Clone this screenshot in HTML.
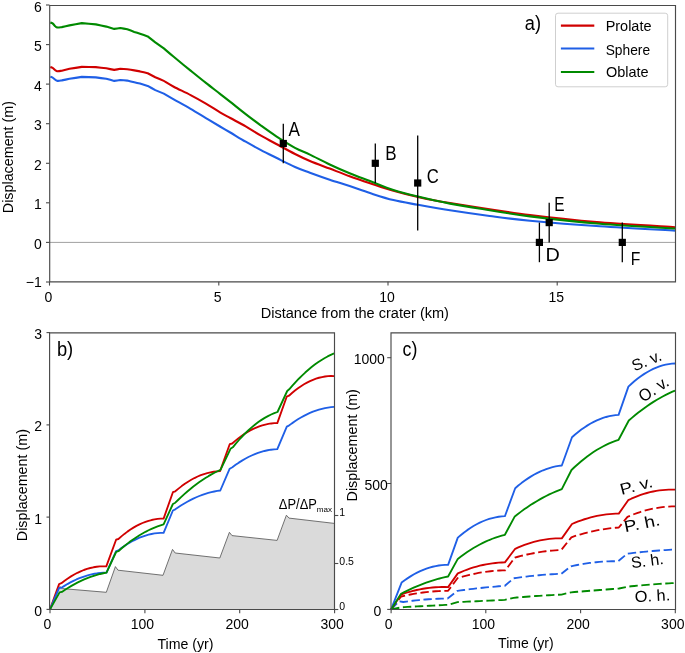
<!DOCTYPE html>
<html><head><meta charset="utf-8"><style>
html,body{margin:0;padding:0;background:#fff;width:685px;height:653px;overflow:hidden}
svg{display:block;will-change:transform}
text{font-family:"Liberation Sans",sans-serif}
</style></head><body>
<svg width="685" height="653" viewBox="0 0 685 653">
<rect width="685" height="653" fill="#fff"/>
<line x1="49.5" y1="242.4" x2="675.5" y2="242.4" stroke="#a0a0a0" stroke-width="1"/>
<path d="M50.30,67.00 C50.68,67.15 51.55,67.22 52.60,67.90 C53.65,68.58 55.07,70.63 56.60,71.10 C58.13,71.57 60.93,70.77 61.80,70.70 C63.08,70.38 68.22,69.12 69.50,68.80 C71.55,68.48 79.75,67.22 81.80,66.90 C84.13,66.93 93.47,67.07 95.80,67.10 C97.55,67.30 104.55,68.10 106.30,68.30 C107.62,68.57 112.88,69.63 114.20,69.90 C115.22,69.72 119.28,68.98 120.30,68.80 C121.47,68.87 126.13,69.13 127.30,69.20 C128.47,69.40 133.13,70.20 134.30,70.40 C135.25,70.57 139.05,71.23 140.00,71.40 C141.28,71.70 146.42,72.90 147.70,73.20 C148.97,73.87 154.03,76.53 155.30,77.20 C156.72,77.82 162.38,80.28 163.80,80.90 C165.45,81.87 169.23,84.33 173.70,86.70 C178.17,89.07 185.23,92.28 190.60,95.10 C195.97,97.92 201.00,100.73 205.90,103.60 C210.80,106.47 215.93,109.90 220.00,112.30 C224.07,114.70 226.02,115.65 230.30,118.00 C234.58,120.35 240.58,123.47 245.70,126.40 C250.82,129.33 255.90,132.67 261.00,135.60 C266.10,138.53 270.63,140.93 276.30,144.00 C281.97,147.07 289.40,151.17 295.00,154.00 C300.60,156.83 304.12,158.57 309.90,161.00 C315.68,163.43 323.08,166.07 329.70,168.60 C336.32,171.13 342.88,173.77 349.60,176.20 C356.32,178.63 362.70,180.77 370.00,183.20 C377.30,185.63 385.42,188.50 393.40,190.80 C401.38,193.10 408.47,194.97 417.90,197.00 C427.33,199.03 431.32,199.98 450.00,203.00 C468.68,206.02 505.00,211.87 530.00,215.10 C555.00,218.33 575.83,220.38 600.00,222.40 C624.17,224.42 662.50,226.40 675.00,227.20" fill="none" stroke="#d00000" stroke-width="2.1" stroke-linejoin="round"/>
<path d="M50.30,76.70 C50.68,76.85 51.48,76.93 52.60,77.60 C53.72,78.27 55.47,80.23 57.00,80.70 C58.53,81.17 61.00,80.45 61.80,80.40 C63.08,80.13 68.22,79.07 69.50,78.80 C71.55,78.48 79.75,77.22 81.80,76.90 C84.13,76.98 93.47,77.32 95.80,77.40 C97.55,77.63 104.55,78.57 106.30,78.80 C107.62,79.15 112.88,80.55 114.20,80.90 C115.22,80.75 119.28,80.15 120.30,80.00 C121.47,80.10 126.13,80.50 127.30,80.60 C128.47,80.88 133.13,82.02 134.30,82.30 C135.25,82.52 139.05,83.38 140.00,83.60 C141.28,83.98 146.42,85.52 147.70,85.90 C148.97,86.60 154.03,89.40 155.30,90.10 C156.72,90.68 162.38,93.02 163.80,93.60 C165.45,94.55 169.23,96.75 173.70,99.30 C178.17,101.85 185.23,105.77 190.60,108.90 C195.97,112.03 201.00,115.17 205.90,118.10 C210.80,121.03 215.93,124.10 220.00,126.50 C224.07,128.90 226.02,129.97 230.30,132.50 C234.58,135.03 240.58,138.77 245.70,141.70 C250.82,144.63 255.90,147.42 261.00,150.10 C266.10,152.78 270.63,154.98 276.30,157.80 C281.97,160.62 289.40,164.52 295.00,167.00 C300.60,169.48 304.12,170.58 309.90,172.70 C315.68,174.82 323.08,177.47 329.70,179.70 C336.32,181.93 342.88,183.87 349.60,186.10 C356.32,188.33 362.70,190.77 370.00,193.10 C377.30,195.43 385.42,198.15 393.40,200.10 C401.38,202.05 408.47,203.10 417.90,204.80 C427.33,206.50 438.03,208.43 450.00,210.30 C461.97,212.17 476.37,214.27 489.70,216.00 C503.03,217.73 511.62,218.98 530.00,220.70 C548.38,222.42 575.83,224.65 600.00,226.30 C624.17,227.95 662.50,229.88 675.00,230.60" fill="none" stroke="#1f5fe6" stroke-width="2.1" stroke-linejoin="round"/>
<path d="M50.30,22.50 C50.68,22.63 51.83,22.73 52.60,23.30 C53.37,23.87 54.17,25.22 54.90,25.90 C55.63,26.58 55.85,27.20 57.00,27.40 C58.15,27.60 61.00,27.15 61.80,27.10 C63.08,26.82 68.22,25.68 69.50,25.40 C71.55,25.02 79.75,23.48 81.80,23.10 C84.13,23.32 93.47,24.18 95.80,24.40 C97.55,24.77 104.55,26.23 106.30,26.60 C107.62,26.98 112.88,28.52 114.20,28.90 C115.22,28.75 119.28,28.15 120.30,28.00 C121.47,28.22 126.13,29.08 127.30,29.30 C128.47,29.73 133.13,31.47 134.30,31.90 C135.25,32.22 139.05,33.48 140.00,33.80 C141.28,34.23 146.42,35.97 147.70,36.40 C148.97,37.38 154.03,41.32 155.30,42.30 C156.72,43.32 162.38,47.38 163.80,48.40 C165.45,49.80 169.23,53.10 173.70,56.80 C178.17,60.50 185.23,66.25 190.60,70.60 C195.97,74.95 201.00,79.03 205.90,82.90 C210.80,86.77 215.93,90.63 220.00,93.80 C224.07,96.97 226.02,98.52 230.30,101.90 C234.58,105.28 240.58,110.15 245.70,114.10 C250.82,118.05 255.90,121.90 261.00,125.60 C266.10,129.30 270.63,132.60 276.30,136.30 C281.97,140.00 289.40,144.75 295.00,147.80 C300.60,150.85 304.12,151.82 309.90,154.60 C315.68,157.38 323.08,161.38 329.70,164.50 C336.32,167.62 342.88,170.53 349.60,173.30 C356.32,176.07 362.70,178.32 370.00,181.10 C377.30,183.88 385.42,187.42 393.40,190.00 C401.38,192.58 408.47,194.33 417.90,196.60 C427.33,198.87 438.03,201.33 450.00,203.60 C461.97,205.87 476.37,208.07 489.70,210.20 C503.03,212.33 511.62,214.13 530.00,216.40 C548.38,218.67 575.83,221.78 600.00,223.80 C624.17,225.82 662.50,227.72 675.00,228.50" fill="none" stroke="#008a00" stroke-width="2.1" stroke-linejoin="round"/>
<line x1="283.3" y1="163.3" x2="283.3" y2="123.7" stroke="#000" stroke-width="1.3"/>
<rect x="279.7" y="139.9" width="7.2" height="7.2" fill="#000"/>
<line x1="375.3" y1="183.0" x2="375.3" y2="143.5" stroke="#000" stroke-width="1.3"/>
<rect x="371.7" y="159.7" width="7.2" height="7.2" fill="#000"/>
<line x1="417.7" y1="230.5" x2="417.7" y2="135.6" stroke="#000" stroke-width="1.3"/>
<rect x="414.1" y="179.4" width="7.2" height="7.2" fill="#000"/>
<line x1="539.4" y1="262.2" x2="539.4" y2="222.6" stroke="#000" stroke-width="1.3"/>
<rect x="535.8" y="238.8" width="7.2" height="7.2" fill="#000"/>
<line x1="549.2" y1="242.4" x2="549.2" y2="202.8" stroke="#000" stroke-width="1.3"/>
<rect x="545.6" y="219.0" width="7.2" height="7.2" fill="#000"/>
<line x1="622.3" y1="262.2" x2="622.3" y2="222.6" stroke="#000" stroke-width="1.3"/>
<rect x="618.7" y="238.8" width="7.2" height="7.2" fill="#000"/>
<text transform="translate(288.61,135.90) scale(0.9512,1.1272)" font-size="18" fill="#000">A</text>
<text transform="translate(385.34,160.20) scale(0.9450,1.0870)" font-size="18" fill="#000">B</text>
<text transform="translate(426.77,183.10) scale(0.9259,1.1429)" font-size="18" fill="#000">C</text>
<text transform="translate(545.61,261.30) scale(1.1018,1.0225)" font-size="18" fill="#000">D</text>
<text transform="translate(554.27,210.80) scale(0.8563,1.1031)" font-size="18" fill="#000">E</text>
<text transform="translate(630.84,264.70) scale(0.8730,1.0628)" font-size="18" fill="#000">F</text>
<path d="M49.7,5.5 H675.5 V281.8 H49.7 Z" fill="none" stroke="#4a4a4a" stroke-width="1.15" stroke-linejoin="miter"/>
<line x1="46" y1="282.0" x2="49.5" y2="282.0" stroke="#4a4a4a" stroke-width="1.1"/>
<text x="41.8" y="286.57000000000005" font-size="14" text-anchor="end" fill="#000">−1</text>
<line x1="46" y1="242.4" x2="49.5" y2="242.4" stroke="#4a4a4a" stroke-width="1.1"/>
<text x="41.8" y="249.0" font-size="14" text-anchor="end" fill="#000">0</text>
<line x1="46" y1="202.8" x2="49.5" y2="202.8" stroke="#4a4a4a" stroke-width="1.1"/>
<text x="41.8" y="209.43" font-size="14" text-anchor="end" fill="#000">1</text>
<line x1="46" y1="163.3" x2="49.5" y2="163.3" stroke="#4a4a4a" stroke-width="1.1"/>
<text x="41.8" y="169.85999999999999" font-size="14" text-anchor="end" fill="#000">2</text>
<line x1="46" y1="123.7" x2="49.5" y2="123.7" stroke="#4a4a4a" stroke-width="1.1"/>
<text x="41.8" y="130.29" font-size="14" text-anchor="end" fill="#000">3</text>
<line x1="46" y1="84.1" x2="49.5" y2="84.1" stroke="#4a4a4a" stroke-width="1.1"/>
<text x="41.8" y="90.72" font-size="14" text-anchor="end" fill="#000">4</text>
<line x1="46" y1="44.6" x2="49.5" y2="44.6" stroke="#4a4a4a" stroke-width="1.1"/>
<text x="41.8" y="51.15000000000001" font-size="14" text-anchor="end" fill="#000">5</text>
<line x1="46" y1="5.0" x2="49.5" y2="5.0" stroke="#4a4a4a" stroke-width="1.1"/>
<text x="41.8" y="11.57999999999999" font-size="14" text-anchor="end" fill="#000">6</text>
<line x1="49.5" y1="281.8" x2="49.5" y2="285.6" stroke="#4a4a4a" stroke-width="1.1"/>
<text x="48.5" y="302" font-size="14" text-anchor="middle" fill="#000">0</text>
<line x1="218.8" y1="281.8" x2="218.8" y2="285.6" stroke="#4a4a4a" stroke-width="1.1"/>
<text x="217.75" y="302" font-size="14" text-anchor="middle" fill="#000">5</text>
<line x1="388.0" y1="281.8" x2="388.0" y2="285.6" stroke="#4a4a4a" stroke-width="1.1"/>
<text x="387.0" y="302" font-size="14" text-anchor="middle" fill="#000">10</text>
<line x1="557.2" y1="281.8" x2="557.2" y2="285.6" stroke="#4a4a4a" stroke-width="1.1"/>
<text x="556.25" y="302" font-size="14" text-anchor="middle" fill="#000">15</text>
<text transform="translate(260.74,317.80) scale(1.0398,0.9938)" font-size="14" fill="#000">Distance from the crater (km)</text>
<text transform="translate(13.20,213.15) rotate(-90) scale(1.0227,1.0145)" font-size="14">Displacement (m)</text>
<text x="524.8" y="30.2" font-size="20" text-anchor="start" fill="#000" textLength="16.2" lengthAdjust="spacingAndGlyphs">a)</text>
<rect x="555.5" y="13.2" width="112.2" height="73.6" rx="2.5" fill="#fff" stroke="#cfcfcf" stroke-width="1"/>
<line x1="560.9" y1="25.6" x2="594.3" y2="25.6" stroke="#d00000" stroke-width="2.1"/>
<text transform="translate(605.64,31.40) scale(1.0338,1.0640)" font-size="14" fill="#000">Prolate</text>
<line x1="560.9" y1="48.5" x2="594.3" y2="48.5" stroke="#1f5fe6" stroke-width="2.1"/>
<text transform="translate(605.68,54.50) scale(0.9843,1.0049)" font-size="14" fill="#000">Sphere</text>
<line x1="560.9" y1="72" x2="594.3" y2="72" stroke="#008a00" stroke-width="2.1"/>
<text transform="translate(605.95,77.30) scale(1.0358,1.0246)" font-size="14" fill="#000">Oblate</text>
<polygon points="50.0,609.4 59.8,586.5 62.5,588.6 106.3,592.3 115.4,566.6 118.0,570.2 163.0,575.3 172.5,549.4 175.2,553.0 219.8,558.0 229.4,532.3 232.0,535.6 277.1,540.4 286.4,515.2 289.0,518.1 334.3,523.4 334.3,609.4" fill="#dadada" stroke="none"/>
<polyline points="50.0,609.4 59.8,586.5 62.5,588.6 106.3,592.3 115.4,566.6 118.0,570.2 163.0,575.3 172.5,549.4 175.2,553.0 219.8,558.0 229.4,532.3 232.0,535.6 277.1,540.4 286.4,515.2 289.0,518.1 334.3,523.4" fill="none" stroke="#5a5a5a" stroke-width="0.85" stroke-linejoin="round" stroke-linecap="butt"/>
<polyline points="50.00,609.40 59.10,584.10 61.40,583.20 64.61,580.73 67.81,578.45 71.02,576.37 74.23,574.48 77.44,572.79 80.64,571.30 83.85,570.00 87.06,568.90 90.26,567.99 93.47,567.28 96.68,566.77 99.89,566.45 103.09,566.33 106.30,566.40 116.10,539.70 118.40,539.00 121.41,536.36 124.43,533.90 127.44,531.63 130.45,529.54 133.47,527.63 136.48,525.90 139.49,524.36 142.51,523.00 145.52,521.82 148.53,520.83 151.55,520.02 154.56,519.39 157.57,518.94 160.59,518.68 163.60,518.60 172.90,492.20 175.30,491.30 178.49,488.61 181.69,486.11 184.88,483.81 188.07,481.69 191.26,479.78 194.46,478.05 197.65,476.52 200.84,475.18 204.04,474.03 207.23,473.08 210.42,472.32 213.61,471.75 216.81,471.38 220.00,471.20 229.70,444.20 232.20,443.50 235.21,440.87 238.21,438.42 241.22,436.16 244.23,434.07 247.23,432.17 250.24,430.44 253.25,428.90 256.25,427.54 259.26,426.36 262.27,425.37 265.27,424.55 268.28,423.92 271.29,423.46 274.29,423.19 277.30,423.10 286.70,396.70 289.00,395.70 292.00,393.03 295.00,390.55 298.00,388.27 301.00,386.18 304.00,384.29 307.00,382.59 310.00,381.09 313.00,379.79 316.00,378.67 319.00,377.76 322.00,377.04 325.00,376.51 328.00,376.18 331.00,376.04 334.00,376.10" fill="none" stroke="#d00000" stroke-width="1.85" stroke-linejoin="round"/>
<polyline points="50.00,609.40 59.10,587.80 61.40,587.80 64.41,585.87 67.41,584.08 70.42,582.41 73.43,580.87 76.43,579.47 79.44,578.19 82.45,577.05 85.45,576.04 88.46,575.15 91.47,574.40 94.47,573.78 97.48,573.29 100.49,572.93 103.49,572.70 106.50,572.60 116.10,551.20 118.40,550.40 121.41,548.11 124.43,545.98 127.44,544.01 130.45,542.20 133.47,540.55 136.48,539.06 139.49,537.72 142.51,536.55 145.52,535.54 148.53,534.68 151.55,533.99 154.56,533.45 157.57,533.07 160.59,532.86 163.60,532.80 172.90,510.50 175.30,509.30 178.30,507.23 181.30,505.28 184.30,503.44 187.30,501.72 190.30,500.12 193.30,498.63 196.30,497.26 199.30,496.01 202.30,494.87 205.30,493.85 208.30,492.95 211.30,492.16 214.30,491.49 217.30,490.94 220.30,490.50 229.70,468.70 232.40,467.20 235.61,464.84 238.81,462.64 242.02,460.61 245.23,458.74 248.44,457.03 251.64,455.49 254.85,454.12 258.06,452.91 261.26,451.86 264.47,450.98 267.68,450.26 270.89,449.71 274.09,449.32 277.30,449.10 286.80,426.60 288.90,425.60 291.91,423.37 294.91,421.28 297.92,419.33 300.93,417.52 303.93,415.85 306.94,414.32 309.95,412.93 312.95,411.68 315.96,410.58 318.97,409.61 321.97,408.79 324.98,408.11 327.99,407.56 330.99,407.16 334.00,406.90" fill="none" stroke="#1f5fe6" stroke-width="1.85" stroke-linejoin="round"/>
<polyline points="50.00,609.40 59.60,592.40 61.90,591.90 65.09,589.77 68.27,587.76 71.46,585.87 74.64,584.09 77.83,582.42 81.01,580.87 84.20,579.43 87.39,578.11 90.57,576.91 93.76,575.82 96.94,574.84 100.13,573.98 103.31,573.23 106.50,572.60 116.10,552.00 118.40,551.20 121.41,548.56 124.43,546.03 127.44,543.63 130.45,541.36 133.47,539.20 136.48,537.17 139.49,535.26 142.51,533.48 145.52,531.81 148.53,530.27 151.55,528.85 154.56,527.55 157.57,526.38 160.59,525.33 163.60,524.40 172.90,504.00 175.30,502.70 178.31,499.74 181.33,496.89 184.34,494.15 187.35,491.52 190.37,489.00 193.38,486.59 196.39,484.29 199.41,482.09 202.42,480.01 205.43,478.03 208.45,476.17 211.46,474.41 214.47,472.77 217.49,471.23 220.50,469.80 230.50,448.80 232.80,447.30 235.99,443.41 239.19,439.74 242.38,436.27 245.57,433.01 248.76,429.96 251.96,427.13 255.15,424.50 258.34,422.09 261.54,419.88 264.73,417.88 267.92,416.10 271.11,414.52 274.31,413.16 277.50,412.00 287.20,391.00 289.20,389.30 292.40,385.60 295.60,382.08 298.80,378.73 302.00,375.55 305.20,372.55 308.40,369.73 311.60,367.08 314.80,364.60 318.00,362.30 321.20,360.17 324.40,358.22 327.60,356.44 330.80,354.83 334.00,353.40" fill="none" stroke="#008a00" stroke-width="1.85" stroke-linejoin="round"/>
<path d="M49.6,332.9 H334.5 V609.5 H49.6 Z" fill="none" stroke="#4a4a4a" stroke-width="1.15" stroke-linejoin="miter"/>
<line x1="46.5" y1="609.4" x2="50" y2="609.4" stroke="#4a4a4a" stroke-width="1.1"/>
<text x="42" y="616.0" font-size="14" text-anchor="end" fill="#000">0</text>
<line x1="46.5" y1="517.1" x2="50" y2="517.1" stroke="#4a4a4a" stroke-width="1.1"/>
<text x="42" y="523.73" font-size="14" text-anchor="end" fill="#000">1</text>
<line x1="46.5" y1="424.9" x2="50" y2="424.9" stroke="#4a4a4a" stroke-width="1.1"/>
<text x="42" y="431.46000000000004" font-size="14" text-anchor="end" fill="#000">2</text>
<line x1="46.5" y1="332.6" x2="50" y2="332.6" stroke="#4a4a4a" stroke-width="1.1"/>
<text x="42" y="339.19" font-size="14" text-anchor="end" fill="#000">3</text>
<line x1="50.0" y1="609.4" x2="50.0" y2="613.1999999999999" stroke="#4a4a4a" stroke-width="1.1"/>
<text x="47.5" y="629.4" font-size="14" text-anchor="middle" fill="#000">0</text>
<line x1="144.9" y1="609.4" x2="144.9" y2="613.1999999999999" stroke="#4a4a4a" stroke-width="1.1"/>
<text x="142.37" y="629.4" font-size="14" text-anchor="middle" fill="#000">100</text>
<line x1="239.7" y1="609.4" x2="239.7" y2="613.1999999999999" stroke="#4a4a4a" stroke-width="1.1"/>
<text x="237.24" y="629.4" font-size="14" text-anchor="middle" fill="#000">200</text>
<line x1="334.6" y1="609.4" x2="334.6" y2="613.1999999999999" stroke="#4a4a4a" stroke-width="1.1"/>
<text x="332.11" y="629.4" font-size="14" text-anchor="middle" fill="#000">300</text>
<line x1="334.5" y1="609.5" x2="338.3" y2="609.5" stroke="#4a4a4a" stroke-width="1.1"/>
<text x="339.3" y="610.0" font-size="10.5" text-anchor="start" fill="#000">0</text>
<line x1="334.5" y1="563.5" x2="338.3" y2="563.5" stroke="#4a4a4a" stroke-width="1.1"/>
<text x="339.3" y="565.2" font-size="10.5" text-anchor="start" fill="#000">0.5</text>
<line x1="334.5" y1="515.5" x2="338.3" y2="515.5" stroke="#4a4a4a" stroke-width="1.1"/>
<text x="339.3" y="516.1" font-size="10.5" text-anchor="start" fill="#000">1</text>
<text transform="translate(157.42,649.10) scale(1.0125,1.0248)" font-size="14" fill="#000">Time (yr)</text>
<text transform="translate(26.50,541.14) rotate(-90) scale(1.0217,1.0455)" font-size="14">Displacement (m)</text>
<text x="56.9" y="356.4" font-size="20" text-anchor="start" fill="#000" textLength="16.3" lengthAdjust="spacingAndGlyphs">b)</text>
<text transform="translate(278.81,509.00) scale(0.9225,1.0455)" font-size="14" fill="#000">ΔP/ΔP</text>
<text transform="translate(316.67,512.10) scale(0.8099,0.7407)" font-size="10" fill="#000">max</text>
<polyline points="391.10,609.40 401.10,596.50 404.23,595.78 407.37,595.11 410.50,594.49 413.63,593.91 416.77,593.39 419.90,592.91 423.03,592.48 426.17,592.10 429.30,591.77 432.43,591.49 435.57,591.25 438.70,591.07 441.83,590.93 444.97,590.84 448.10,590.80 457.50,578.20 460.50,577.28 463.50,576.42 466.50,575.61 469.50,574.87 472.50,574.17 475.50,573.54 478.50,572.96 481.50,572.44 484.50,571.97 487.50,571.56 490.50,571.21 493.50,570.92 496.50,570.68 499.50,570.49 502.50,570.37 505.50,570.30 514.80,557.60 517.90,556.76 521.00,555.96 524.10,555.21 527.20,554.51 530.30,553.85 533.40,553.24 536.50,552.68 539.60,552.17 542.70,551.70 545.80,551.28 548.90,550.91 552.00,550.59 555.10,550.31 558.20,550.08 561.30,549.90 571.40,537.30 574.56,536.23 577.72,535.23 580.88,534.28 584.04,533.39 587.20,532.56 590.36,531.79 593.52,531.08 596.68,530.43 599.84,529.83 603.00,529.30 606.16,528.82 609.32,528.40 612.48,528.04 615.64,527.74 618.80,527.50 627.50,516.80 630.67,515.48 633.83,514.25 637.00,513.11 640.17,512.05 643.33,511.09 646.50,510.21 649.67,509.42 652.83,508.72 656.00,508.11 659.17,507.59 662.33,507.15 665.50,506.81 668.67,506.55 671.83,506.38 675.00,506.30" fill="none" stroke="#d00000" stroke-width="1.85" stroke-linejoin="round" stroke-dasharray="8.4,3.6"/>
<polyline points="391.10,609.40 399.10,601.20 403.20,602.00 406.37,601.56 409.54,601.14 412.71,600.76 415.89,600.40 419.06,600.08 422.23,599.78 425.40,599.52 428.57,599.28 431.74,599.08 434.91,598.90 438.09,598.76 441.26,598.64 444.43,598.56 447.60,598.50 457.50,590.80 460.66,590.37 463.82,589.96 466.98,589.56 470.14,589.17 473.30,588.80 476.46,588.43 479.62,588.09 482.78,587.75 485.94,587.43 489.10,587.13 492.26,586.84 495.42,586.56 498.58,586.29 501.74,586.04 504.90,585.80 513.60,578.30 516.78,577.83 519.96,577.39 523.14,576.96 526.32,576.57 529.50,576.19 532.68,575.85 535.86,575.52 539.04,575.22 542.22,574.95 545.40,574.69 548.58,574.47 551.76,574.26 554.94,574.09 558.12,573.93 561.30,573.80 570.90,566.30 574.05,565.62 577.19,564.99 580.34,564.41 583.49,563.87 586.63,563.39 589.78,562.95 592.93,562.56 596.07,562.22 599.22,561.93 602.37,561.69 605.51,561.49 608.66,561.35 611.81,561.25 614.95,561.20 618.10,561.20 627.20,553.70 630.39,553.31 633.57,552.94 636.76,552.58 639.95,552.23 643.13,551.91 646.32,551.59 649.51,551.30 652.69,551.02 655.88,550.75 659.07,550.51 662.25,550.27 665.44,550.06 668.63,549.86 671.81,549.67 675.00,549.50" fill="none" stroke="#1f5fe6" stroke-width="1.85" stroke-linejoin="round" stroke-dasharray="8.4,3.6"/>
<polyline points="391.10,609.40 401.40,607.30 404.54,607.12 407.68,606.94 410.82,606.76 413.96,606.59 417.10,606.41 420.24,606.24 423.38,606.07 426.52,605.91 429.66,605.74 432.80,605.58 435.94,605.42 439.08,605.26 442.22,605.11 445.36,604.95 448.50,604.80 457.50,602.10 460.65,601.96 463.81,601.82 466.96,601.68 470.11,601.53 473.27,601.39 476.42,601.24 479.57,601.10 482.73,600.95 485.88,600.80 489.03,600.65 492.19,600.51 495.34,600.36 498.49,600.20 501.65,600.05 504.80,599.90 513.60,597.80 516.79,597.52 519.99,597.24 523.18,596.98 526.37,596.72 529.57,596.48 532.76,596.25 535.95,596.02 539.15,595.81 542.34,595.61 545.53,595.41 548.73,595.23 551.92,595.06 555.11,594.90 558.31,594.74 561.50,594.60 571.20,592.30 574.39,592.04 577.57,591.79 580.76,591.53 583.95,591.28 587.13,591.03 590.32,590.77 593.51,590.52 596.69,590.27 599.88,590.01 603.07,589.76 606.25,589.51 609.44,589.25 612.63,589.00 615.81,588.75 619.00,588.50 628.00,586.60 631.13,586.29 634.27,585.99 637.40,585.69 640.53,585.41 643.67,585.14 646.80,584.88 649.93,584.63 653.07,584.39 656.20,584.16 659.33,583.94 662.47,583.73 665.60,583.53 668.73,583.35 671.87,583.17 675.00,583.00" fill="none" stroke="#008a00" stroke-width="1.85" stroke-linejoin="round" stroke-dasharray="8.4,3.6"/>
<polyline points="391.10,609.40 401.10,594.50 404.23,593.43 407.37,592.45 410.50,591.55 413.63,590.73 416.77,589.99 419.90,589.33 423.03,588.75 426.17,588.26 429.30,587.85 432.43,587.52 435.57,587.27 438.70,587.11 441.83,587.02 444.97,587.02 448.10,587.10 457.80,573.40 460.94,572.03 464.08,570.75 467.22,569.56 470.36,568.47 473.50,567.46 476.64,566.55 479.78,565.72 482.92,564.99 486.06,564.35 489.20,563.80 492.34,563.34 495.48,562.97 498.62,562.69 501.76,562.50 504.90,562.40 515.20,548.80 518.31,547.39 521.41,546.08 524.52,544.87 527.63,543.77 530.73,542.77 533.84,541.87 536.95,541.07 540.05,540.38 543.16,539.79 546.27,539.30 549.37,538.92 552.48,538.63 555.59,538.45 558.69,538.37 561.80,538.40 572.00,524.00 575.12,522.68 578.24,521.44 581.36,520.30 584.48,519.25 587.60,518.29 590.72,517.41 593.84,516.63 596.96,515.94 600.08,515.33 603.20,514.82 606.32,514.40 609.44,514.06 612.56,513.82 615.68,513.66 618.80,513.60 628.20,500.20 631.32,498.72 634.44,497.36 637.56,496.10 640.68,494.96 643.80,493.92 646.92,493.00 650.04,492.19 653.16,491.49 656.28,490.90 659.40,490.42 662.52,490.06 665.64,489.80 668.76,489.66 671.88,489.62 675.00,489.70" fill="none" stroke="#d00000" stroke-width="1.85" stroke-linejoin="round"/>
<polyline points="391.10,609.40 401.60,582.60 404.70,580.28 407.80,578.13 410.90,576.13 414.00,574.30 417.10,572.64 420.20,571.13 423.30,569.79 426.40,568.61 429.50,567.59 432.60,566.74 435.70,566.04 438.80,565.51 441.90,565.15 445.00,564.94 448.10,564.90 457.80,537.60 460.94,534.94 464.08,532.45 467.22,530.14 470.36,528.01 473.50,526.06 476.64,524.28 479.78,522.67 482.92,521.25 486.06,520.00 489.20,518.92 492.34,518.03 495.48,517.31 498.62,516.76 501.76,516.39 504.90,516.20 515.20,488.20 518.31,485.57 521.41,483.10 524.52,480.78 527.63,478.63 530.73,476.64 533.84,474.81 536.95,473.13 540.05,471.62 543.16,470.27 546.27,469.07 549.37,468.04 552.48,467.16 555.59,466.45 558.69,465.89 561.80,465.50 572.00,437.20 575.11,434.49 578.21,431.95 581.32,429.58 584.43,427.40 587.53,425.38 590.64,423.55 593.75,421.89 596.85,420.40 599.96,419.09 603.07,417.95 606.17,416.99 609.28,416.20 612.39,415.59 615.49,415.16 618.60,414.90 628.40,386.60 631.51,383.72 634.61,381.04 637.72,378.54 640.83,376.24 643.93,374.12 647.04,372.20 650.15,370.47 653.25,368.93 656.36,367.58 659.47,366.42 662.57,365.46 665.68,364.68 668.79,364.10 671.89,363.70 675.00,363.50" fill="none" stroke="#1f5fe6" stroke-width="1.85" stroke-linejoin="round"/>
<polyline points="391.10,609.40 401.10,593.80 404.23,592.17 407.37,590.61 410.50,589.11 413.63,587.69 416.77,586.33 419.90,585.04 423.03,583.82 426.17,582.67 429.30,581.58 432.43,580.56 435.57,579.62 438.70,578.73 441.83,577.92 444.97,577.18 448.10,576.50 457.80,558.90 460.94,556.51 464.08,554.22 467.22,552.05 470.36,550.00 473.50,548.05 476.64,546.22 479.78,544.50 482.92,542.90 486.06,541.40 489.20,540.02 492.34,538.75 495.48,537.59 498.62,536.55 501.76,535.62 504.90,534.80 514.80,516.40 517.93,513.96 521.07,511.62 524.20,509.36 527.33,507.18 530.47,505.10 533.60,503.10 536.73,501.20 539.87,499.38 543.00,497.64 546.13,496.00 549.27,494.44 552.40,492.98 555.53,491.60 558.67,490.30 561.80,489.10 571.50,470.00 574.64,467.03 577.78,464.19 580.92,461.50 584.06,458.94 587.20,456.51 590.34,454.23 593.48,452.08 596.62,450.06 599.76,448.19 602.90,446.45 606.04,444.84 609.18,443.38 612.32,442.05 615.46,440.86 618.60,439.80 628.80,420.50 631.88,417.84 634.96,415.27 638.04,412.80 641.12,410.43 644.20,408.15 647.28,405.96 650.36,403.87 653.44,401.88 656.52,399.98 659.60,398.18 662.68,396.47 665.76,394.86 668.84,393.35 671.92,391.93 675.00,390.60" fill="none" stroke="#008a00" stroke-width="1.85" stroke-linejoin="round"/>
<path d="M391.0,332.9 H675.5 V609.5 H391.0 Z" fill="none" stroke="#4a4a4a" stroke-width="1.15" stroke-linejoin="miter"/>
<line x1="387.2" y1="609.4" x2="391.1" y2="609.4" stroke="#4a4a4a" stroke-width="1.05"/>
<text x="381.3" y="616.0" font-size="14" text-anchor="end" fill="#000">0</text>
<line x1="387.2" y1="483.5" x2="391.1" y2="483.5" stroke="#4a4a4a" stroke-width="1.05"/>
<text x="387.9" y="489.8" font-size="14" text-anchor="end" fill="#000">500</text>
<line x1="387.2" y1="357.7" x2="391.1" y2="357.7" stroke="#4a4a4a" stroke-width="1.05"/>
<text x="384.9" y="364.2" font-size="14" text-anchor="end" fill="#000">1000</text>
<line x1="391.1" y1="609.4" x2="391.1" y2="613.1999999999999" stroke="#4a4a4a" stroke-width="1.1"/>
<text x="388.6" y="629.4" font-size="14" text-anchor="middle" fill="#000">0</text>
<line x1="485.8" y1="609.4" x2="485.8" y2="613.1999999999999" stroke="#4a4a4a" stroke-width="1.1"/>
<text x="483.33000000000004" y="629.4" font-size="14" text-anchor="middle" fill="#000">100</text>
<line x1="580.6" y1="609.4" x2="580.6" y2="613.1999999999999" stroke="#4a4a4a" stroke-width="1.1"/>
<text x="578.0600000000001" y="629.4" font-size="14" text-anchor="middle" fill="#000">200</text>
<line x1="675.3" y1="609.4" x2="675.3" y2="613.1999999999999" stroke="#4a4a4a" stroke-width="1.1"/>
<text x="672.79" y="629.4" font-size="14" text-anchor="middle" fill="#000">300</text>
<text transform="translate(498.12,648.40) scale(1.0033,0.9834)" font-size="14" fill="#000">Time (yr)</text>
<text transform="translate(356.80,501.45) rotate(-90) scale(1.0245,1.0145)" font-size="14">Displacement (m)</text>
<text x="402.5" y="356.1" font-size="20" text-anchor="start" fill="#000" textLength="14.8" lengthAdjust="spacingAndGlyphs">c)</text>
<text transform="translate(634.59,371.45) rotate(-22.57) scale(0.9919,1.0)" font-size="16">S. v.</text>
<text transform="translate(643.19,402.82) rotate(-33.67) scale(0.9387,1.0)" font-size="17">O. v.</text>
<text transform="translate(621.50,494.95) rotate(-14.52) scale(1.1565,1.0)" font-size="16">P. v.</text>
<text transform="translate(625.27,532.25) rotate(-11.49) scale(1.1810,1.0)" font-size="16">P. h.</text>
<text transform="translate(631.67,568.30) rotate(-7.45) scale(0.9978,1.0)" font-size="16">S. h.</text>
<text transform="translate(635.06,602.26) rotate(-3.14) scale(1.0247,1.0)" font-size="16">O. h.</text>
</svg></body></html>
